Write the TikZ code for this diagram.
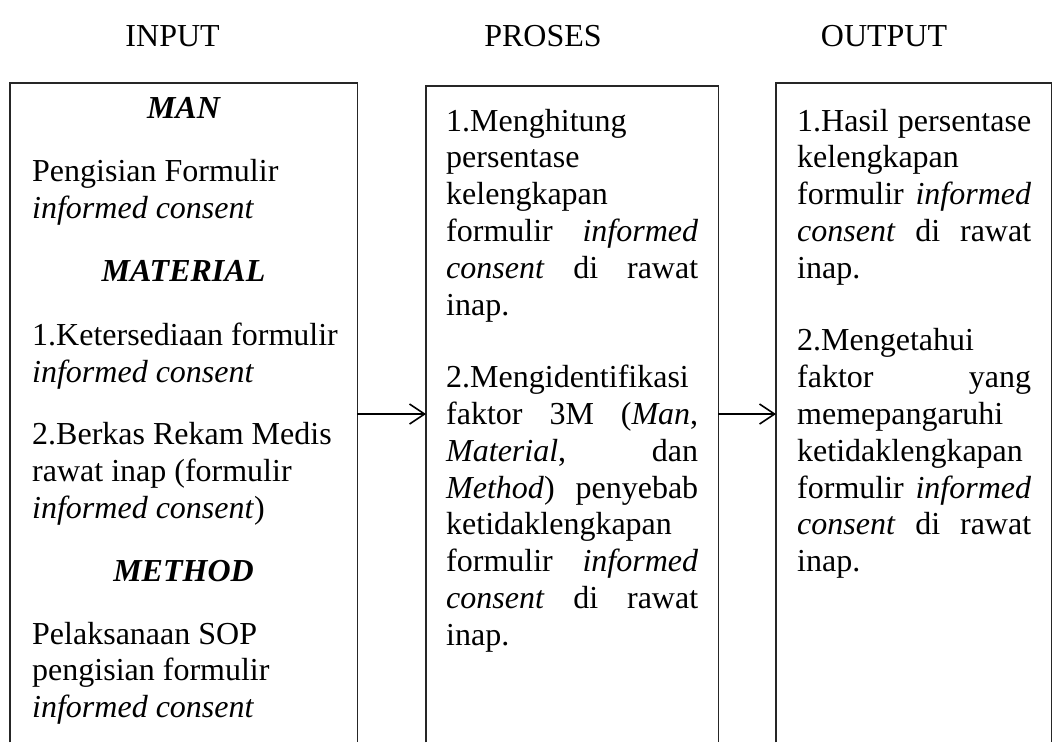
\documentclass[tikz,border=0pt]{standalone}
\usepackage{fontspec}
\setmainfont{Liberation Serif}
\usetikzlibrary{arrows.meta}
\newcommand\Jm[1]{\makebox[252pt][s]{#1}}
\newcommand\Jr[1]{\makebox[234pt][s]{#1}}
\begin{document}
\frenchspacing
\begin{tikzpicture}[x=1pt,y=-1pt,
  txt/.style={anchor=base west, inner sep=0pt, font=\fontsize{32}{36.8}\selectfont},
  ttl/.style={anchor=base, inner sep=0pt, font=\fontsize{32}{36.8}\selectfont},
  hd/.style={anchor=base, inner sep=0pt, font=\fontsize{32}{36.8}\selectfont\bfseries\itshape},
  frame/.style={draw=none, inner sep=0pt, anchor=north west},
  edgeline/.style={line width=1.2pt, black!85},
  flow/.style={line width=1.6pt, -{Straight Barb[length=15pt,width=20pt]}}]
\fill[white] (0,0) rectangle (1055,742);
\useasboundingbox (0,0) rectangle (1055,742);

% titles
\node[ttl] (tin)  at (172.6,46) {INPUT};
\node[ttl] (tpr)  at (543,46)   {PROSES};
\node[ttl] (tout) at (884,46)   {OUTPUT};

% box frames (open at the bottom)
\node[frame, minimum width=347pt, minimum height=659pt] (inbox)  at (10,83) {};
\node[frame, minimum width=292pt, minimum height=656pt] (prbox)  at (426,86) {};
\node[frame, minimum width=275pt, minimum height=659pt] (outbox) at (776,83) {};
\foreach \b in {inbox,prbox,outbox}
  \draw[edgeline] (\b.south west) -- (\b.north west) -- (\b.north east) -- (\b.south east);

% INPUT column
\node[hd]  (l1)  at (183.5,118)  {MAN};
\node[txt] (l2)  at (32,181.5)   {Pengisian Formulir};
\node[txt] (l3)  at (32,218.3)   {\textit{informed consent}};
\node[hd]  (l4)  at (183.5,281.8){MATERIAL};
\node[txt] (l5)  at (32,345.3)   {1.Ketersediaan formulir};
\node[txt] (l6)  at (32,382.1)   {\textit{informed consent}};
\node[txt] (l7)  at (32,444.6)   {2.Berkas Rekam Medis};
\node[txt] (l8)  at (32,481.4)   {rawat inap (formulir};
\node[txt] (l9)  at (32,518.2)   {\textit{informed consent})};
\node[hd]  (l10) at (183.5,581.7){METHOD};
\node[txt] (l11) at (32,644)     {Pelaksanaan SOP};
\node[txt] (l12) at (32,680.8)   {pengisian formulir};
\node[txt] (l13) at (32,717.6)   {\textit{informed consent}};

% PROSES column
\node[txt] (m1)  at (446,131)   {1.Menghitung};
\node[txt] (m2)  at (446,167.8) {persentase};
\node[txt] (m3)  at (446,204.6) {kelengkapan};
\node[txt] (m4)  at (446,241.4) {\Jm{formulir \textit{informed}}};
\node[txt] (m5)  at (446,278.2) {\Jm{\textit{consent} di rawat}};
\node[txt] (m6)  at (446,315)   {inap.};
\node[txt] (m7)  at (446,387.6) {2.Mengidentifikasi};
\node[txt] (m8)  at (446,424.4) {\Jm{faktor 3M (\textit{Man},}};
\node[txt] (m9)  at (446,461.2) {\Jm{\textit{Material}, dan}};
\node[txt] (m10) at (446,498)   {\Jm{\textit{Method}) penyebab}};
\node[txt] (m11) at (446,534.8) {ketidaklengkapan};
\node[txt] (m12) at (446,571.6) {\Jm{formulir \textit{informed}}};
\node[txt] (m13) at (446,608.4) {\Jm{\textit{consent} di rawat}};
\node[txt] (m14) at (446,645.2) {inap.};

% OUTPUT column
\node[txt] (r1)  at (797,131)   {\Jr{1.Hasil persentase}};
\node[txt] (r2)  at (797,167.8) {kelengkapan};
\node[txt] (r3)  at (797,204.6) {\Jr{formulir \textit{informed}}};
\node[txt] (r4)  at (797,241.4) {\Jr{\textit{consent} di rawat}};
\node[txt] (r5)  at (797,278.2) {inap.};
\node[txt] (r6)  at (797,350.8) {2.Mengetahui};
\node[txt] (r7)  at (797,387.6) {\Jr{faktor yang}};
\node[txt] (r8)  at (797,424.4) {memepangaruhi};
\node[txt] (r9)  at (797,461.2) {ketidaklengkapan};
\node[txt] (r10) at (797,498)   {\Jr{formulir \textit{informed}}};
\node[txt] (r11) at (797,534.8) {\Jr{\textit{consent} di rawat}};
\node[txt] (r12) at (797,571.6) {inap.};

% arrows
\coordinate (ay) at (0,414);
\draw[flow] (inbox.east |- ay) -- (prbox.west |- ay);
\draw[flow] (prbox.east |- ay) -- (outbox.west |- ay);
\end{tikzpicture}
\end{document}
